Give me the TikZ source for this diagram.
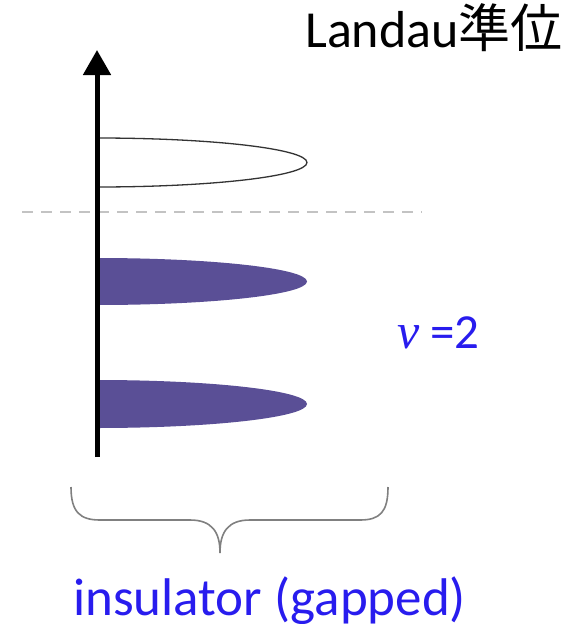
\documentclass[tikz,border=0pt]{standalone}
\usepackage{fontspec}
\setmainfont{Carlito}
\newfontfamily\cjk{Noto Sans CJK JP}
\newfontfamily\grk{Liberation Serif}
\usetikzlibrary{arrows.meta}
\definecolor{lvl}{RGB}{90,79,150}
\definecolor{txtblue}{RGB}{40,28,238}
\definecolor{bracegray}{RGB}{128,128,128}
\definecolor{dashgray}{RGB}{195,195,195}
\begin{document}
\begin{tikzpicture}[x=1pt,y=-1pt,
  emptylevel/.style={draw=black!80,line width=1.3pt,fill=white},
  fulllevel/.style={fill=lvl,draw=none},
  axisline/.style={line width=5pt,-{Triangle[length=25pt,width=27pt]}},
  fermi/.style={draw=dashgray,line width=1.2pt,dash pattern=on 11pt off 8pt},
  bracestyle/.style={draw=bracegray,line width=1.6pt},
  lbl/.style={inner sep=0pt,anchor=base west}]
\useasboundingbox (0,0) rectangle (587,624);
\coordinate (bot) at (97,457);
\coordinate (top) at (97,50);
% Fermi level
\coordinate (fl) at (22,212);
\coordinate (fr) at (422,212);
\draw[fermi] (fl) -- (fr);
% levels
\draw[emptylevel] (97,138) arc[start angle=-90,end angle=90,x radius=210,y radius=24.5] -- cycle;
\fill[fulllevel] (97,258) arc[start angle=-90,end angle=90,x radius=210,y radius=23.5] -- cycle;
\fill[fulllevel] (97,380) arc[start angle=-90,end angle=90,x radius=210,y radius=24] -- cycle;
% axis
\draw[axisline] (bot) -- (top);
% brace
\draw[bracestyle] (71,487) .. controls (71,512) and (80,520) .. (100,520) -- (190,520)
  .. controls (212,520) and (220,532) .. (220,553)
  .. controls (220,532) and (228,520) .. (250,520) -- (360,520)
  .. controls (380,520) and (388,512) .. (388,487);
% labels
\node[lbl] (title) at (305,47) {\fontsize{52}{55}\selectfont Landau{\cjk 準位}};
\node[lbl,text=txtblue] (nu) at (397,348) {\fontsize{50}{52}\selectfont{\grk\itshape ν}\hspace{0.22em}{\fontsize{49}{52}\selectfont =2}};
\node[lbl,text=txtblue] (ins) at (73,615) {\fontsize{53}{56}\selectfont insulator (gapped)};
\end{tikzpicture}
\end{document}
